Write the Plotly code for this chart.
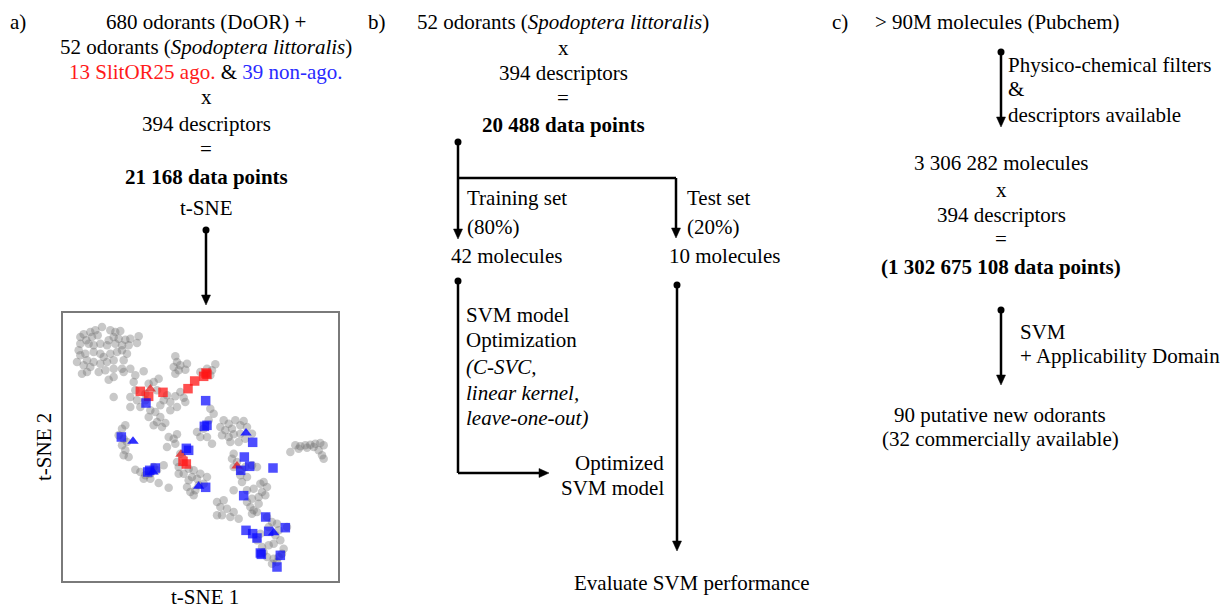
import plotly.graph_objects as go

# ---------------- data: t-SNE map (panel a) ----------------
gray_t1 = [12.5,10.5,9.0,7.0,6.0,7.8,9.5,11.2,15.0,16.5,18.0,16.0,14.5,17.5,19.5,21.0,23.5,23.0,20.5,18.5,16.5,14.0,12.0,10.0,8.5,6.0,5.5,6.0,7.5,10.0,12.0,13.0,15.0,17.0,18.5,20.0,19.0,16.0,14.0,12.0,10.0,8.0,5.0,7.0,9.0,8.0,6.5,11.5,13.5,16.0,18.5,21.0,16.0,14.5,19.0,22.5,25.0,
           34.5,35.0,34.0,36.0,38.0,37.5,35.5,34.5,44.0,46.5,45.0,42.0,45.5,
           22.0,26.5,28.0,29.5,22.5,25.5,29.0,32.0,34.5,37.0,36.0,31.0,33.0,30.0,27.0,28.5,30.0,31.5,29.0,26.5,24.0,21.0,21.0,23.0,16.0,25.5,33.0,35.0,37.5,30.5,28.0,
           45.0,46.0,44.5,43.0,41.0,42.0,44.0,45.5,
           49.0,50.5,52.5,55.0,48.0,49.5,51.5,54.0,56.0,48.5,50.5,52.0,54.0,51.0,53.5,55.5,57.5,
           70.5,72.0,73.5,75.0,76.5,78.0,79.0,76.0,74.0,71.5,69.0,77.5,78.5,79.0,
           18.5,19.5,17.5,19.0,20.0,18.5,19.5,19.0,20.5,
           32.5,34.0,35.0,34.5,32.0,36.0,35.0,35.5,35.5,37.0,38.5,40.0,39.5,41.0,38.5,38.0,39.0,40.0,44.0,43.0,41.5,40.5,42.0,
           22.5,24.0,25.5,27.0,29.0,31.0,25.0,27.0,29.5,32.5,28.0,
           52.0,51.5,53.0,52.0,54.0,55.5,57.5,59.0,56.0,54.5,52.0,56.0,58.0,59.5,57.5,56.0,57.0,58.0,60.0,61.0,62.0,60.5,61.5,59.5,57.5,59.0,54.0,
           47.0,49.0,48.0,50.0,47.0,48.5,51.0,53.5,52.0,
           62.0,63.5,65.0,65.5,62.5,64.5,66.0,64.0,62.5,60.5,61.0,62.0,64.0,65.5,66.5,65.0,63.5,67.0,68.0,59.0,60.0]
gray_t2 = [79.0,78.0,77.5,76.8,76.0,75.0,76.0,76.5,78.0,77.5,77.8,76.0,75.0,75.5,75.2,75.5,76.2,74.2,73.5,73.5,74.0,73.5,74.0,73.5,74.0,74.0,72.0,70.5,71.0,71.5,71.0,70.0,71.0,71.5,72.0,71.0,69.0,69.0,68.5,68.0,68.5,69.0,68.5,67.5,67.0,65.5,65.0,65.5,66.0,66.5,66.5,66.5,64.0,63.2,65.5,64.5,65.7,
           70.2,68.5,67.0,67.5,68.0,66.2,66.0,65.0,66.5,67.8,64.5,65.5,66.0,
           62.5,62.0,62.5,63.5,60.0,59.0,60.0,58.5,58.2,57.8,59.5,57.0,56.5,55.5,54.0,53.5,52.0,50.2,50.5,52.0,55.0,55.0,58.0,57.0,58.0,57.0,54.0,55.0,56.5,49.0,49.5,
           54.5,53.0,51.0,48.5,47.5,46.0,46.0,44.0,
           51.0,50.0,51.0,50.8,49.0,48.0,48.5,49.5,49.0,46.5,46.0,46.8,47.0,44.5,44.5,45.5,47.0,
           43.5,43.2,43.5,43.7,44.0,44.2,43.5,43.0,42.8,42.5,41.5,42.0,40.5,39.5,
           48.5,49.5,46.5,45.5,44.5,43.5,42.0,40.5,40.0,
           46.0,45.5,46.8,44.0,43.0,41.0,38.5,37.0,35.0,35.0,36.5,36.0,34.0,33.5,33.0,31.0,29.5,28.5,34.0,32.0,31.5,30.0,35.0,
           36.2,35.5,34.5,35.0,36.0,37.5,33.5,33.5,32.2,30.8,37.0,
           41.0,39.5,38.5,37.0,36.0,37.0,37.5,37.0,34.0,32.5,30.0,30.0,30.5,28.0,27.5,26.5,25.0,24.0,32.0,32.5,31.0,29.5,28.5,26.0,23.0,23.5,34.5,
           26.5,27.0,25.0,24.5,22.5,22.5,22.0,21.5,23.5,
           22.0,20.5,20.0,18.0,19.0,16.5,15.0,14.0,13.5,13.0,11.5,10.0,9.5,10.0,11.0,8.5,8.0,12.5,19.0,15.0,17.0]

ago_sq_t1 = [24.0,26.5,30.8,38.3,40.3,43.7,43.0,36.8,37.8,44.0]
ago_sq_t2 = [59.7,58.2,59.4,60.5,62.8,65.2,64.2,38.7,37.9,64.8]
ago_tri_t1 = [27.0,36.2,53.0]
ago_tri_t2 = [60.4,40.8,37.3]

non_sq_t1 = [25.7,43.6,43.2,18.3,37.8,38.5,26.8,28.5,43.6,57.7,55.2,56.8,54.1,63.8,55.0,61.6,55.7,57.7,59.0,62.5,67.5,60.3,66.0,65.0,60.0,26.2,44.0]
non_sq_t2 = [56.2,56.9,49.2,46.0,42.6,42.0,36.0,36.7,30.9,44.4,40.0,37.2,36.0,36.7,28.4,22.0,18.0,17.0,15.7,17.7,18.8,10.8,10.5,7.0,11.2,35.5,49.5]
non_tri_t1 = [21.8,55.7,64.0,41.5,27.8]
non_tri_t2 = [44.7,47.2,17.3,31.2,35.5]

T1_RANGE = [0.8, 83.3]
T2_RANGE = [2.8, 83.2]

FONT = "Liberation Serif"
FS = 21
PAGE_W, PAGE_H = 1229, 610
OFF = 8  # default page body margin
W, H = PAGE_W - OFF, PAGE_H - OFF

fig = go.Figure()

# scatter traces on subplot 2
fig.add_trace(go.Scatter(x=gray_t1, y=gray_t2, mode="markers", xaxis="x2", yaxis="y2",
                         marker=dict(size=8.5, color="rgba(110,110,110,0.38)", line=dict(width=0)),
                         hoverinfo="skip", showlegend=False))
fig.add_trace(go.Scatter(x=ago_sq_t1, y=ago_sq_t2, mode="markers", xaxis="x2", yaxis="y2",
                         marker=dict(size=9.5, symbol="square", color="rgba(255,20,20,0.75)", line=dict(width=0)),
                         showlegend=False))
fig.add_trace(go.Scatter(x=ago_tri_t1, y=ago_tri_t2, mode="markers", xaxis="x2", yaxis="y2",
                         marker=dict(size=10, symbol="triangle-up", color="rgba(230,30,30,0.75)", line=dict(width=0)),
                         showlegend=False))
fig.add_trace(go.Scatter(x=non_sq_t1, y=non_sq_t2, mode="markers", xaxis="x2", yaxis="y2",
                         marker=dict(size=9.5, symbol="square", color="rgba(10,10,255,0.72)", line=dict(width=0)),
                         showlegend=False))
fig.add_trace(go.Scatter(x=non_tri_t1, y=non_tri_t2, mode="markers", xaxis="x2", yaxis="y2",
                         marker=dict(size=10, symbol="triangle-up", color="rgba(10,10,255,0.85)", line=dict(width=0)),
                         showlegend=False))

shapes = []
annotations = []

LW = 2.5

def line(x0, y0, x1, y1):
    shapes.append(dict(type="line", xref="x", yref="y", x0=x0, y0=y0, x1=x1, y1=y1,
                       line=dict(color="black", width=LW)))

def dot(x, y, r=3.5):
    shapes.append(dict(type="circle", xref="x", yref="y", x0=x - r, y0=y - r, x1=x + r, y1=y + r,
                       fillcolor="black", line=dict(color="black", width=0)))

def head_down(x, y):
    shapes.append(dict(type="path", xref="x", yref="y",
                       path=f"M {x-4.5},{y-10} L {x+4.5},{y-10} L {x},{y} Z",
                       fillcolor="black", line=dict(color="black", width=0.5)))

def head_right(x, y):
    shapes.append(dict(type="path", xref="x", yref="y",
                       path=f"M {x-10},{y-4.5} L {x-10},{y+4.5} L {x},{y} Z",
                       fillcolor="black", line=dict(color="black", width=0.5)))

def text(x, y, s, anchor="center", size=FS, angle=0):
    annotations.append(dict(x=x, y=y, xref="x", yref="y", text=s, showarrow=False,
                            xanchor=anchor, yanchor="middle", textangle=angle,
                            font=dict(family=FONT, size=size, color="black")))

# ---------------- panel a ----------------
text(18, 22, "a)")
ax = 206
text(ax, 22, "680 odorants (DoOR) +")
text(ax, 47, "52 odorants (<i>Spodoptera littoralis</i>)")
text(ax, 72, "<span style='color:#ff1a1a'>13 SlitOR25 ago.</span> &amp; "
             "<span style='color:#2a2aff'>39 non-ago.</span>")
text(ax, 97, "x")
text(ax, 124, "394 descriptors")
text(ax, 149, "=")
text(ax, 177, "<b>21 168 data points</b>")
text(ax, 208, "t-SNE")
dot(206, 230)
line(206, 230, 206, 297)
head_down(206, 305)
text(205, 597, "t-SNE 1")
text(44, 447, "t-SNE 2", angle=-90)

# ---------------- panel b ----------------
text(377, 22, "b)")
bx = 563
text(bx, 22, "52 odorants (<i>Spodoptera littoralis</i>)")
text(bx, 48, "x")
text(bx, 73, "394 descriptors")
text(bx, 98, "=")
text(bx, 125, "<b>20 488 data points</b>")
dot(458, 142)
line(458, 142, 458, 231)
head_down(458, 239)
line(458, 178, 676, 178)
line(676, 178, 676, 230)
head_down(676, 238)
text(465, 198, "Training set", anchor="left")
text(465, 227, "(80%)", anchor="left")
text(685, 198, "Test set", anchor="left")
text(685, 227, "(20%)", anchor="left")
text(449, 256, "42 molecules", anchor="left")
text(667, 256, "10 molecules", anchor="left")
dot(458, 281)
line(458, 281, 458, 473)
line(458, 473, 541, 473)
head_right(549, 473)
text(464, 315, "SVM model", anchor="left")
text(464, 340, "Optimization", anchor="left")
text(464, 367, "<i>(C-SVC,</i>", anchor="left")
text(464, 393, "<i>linear kernel,</i>", anchor="left")
text(464, 418, "<i>leave-one-out)</i>", anchor="left")
text(666, 463, "Optimized", anchor="right")
text(666, 488, "SVM model", anchor="right")
dot(677, 285)
line(677, 285, 677, 543)
head_down(677, 551)
text(692, 583, "Evaluate SVM performance")

# ---------------- panel c ----------------
text(840, 22, "c)")
text(873, 22, "&gt; 90M molecules (Pubchem)", anchor="left")
dot(1001, 52)
line(1001, 52, 1001, 119)
head_down(1001, 127)
text(1006, 65, "Physico-chemical filters", anchor="left")
text(1006, 89, "&amp;", anchor="left")
text(1006, 115, "descriptors available", anchor="left")
cx = 1001
text(cx, 163, "3 306 282 molecules")
text(cx, 190, "x")
text(cx, 215, "394 descriptors")
text(cx, 239, "=")
text(cx, 267, "<b>(1 302 675 108 data points)</b>")
dot(1001, 310)
line(1001, 310, 1001, 377)
head_down(1001, 385)
text(1018, 332, "SVM", anchor="left")
text(1018, 356, "+ Applicability Domain", anchor="left")
text(1000, 415, "90 putative new odorants")
text(1000, 439, "(32 commercially available)")

# layout coordinates are page pixels; the figure starts OFF px into the page
fig.update_layout(
    width=W, height=H,
    margin=dict(l=0, r=0, t=0, b=0),
    paper_bgcolor="white", plot_bgcolor="rgba(0,0,0,0)",
    showlegend=False,
    xaxis=dict(range=[OFF, PAGE_W], domain=[0, 1], visible=False, fixedrange=True),
    yaxis=dict(range=[PAGE_H, OFF], domain=[0, 1], visible=False, fixedrange=True),
    xaxis2=dict(range=T1_RANGE, domain=[(63 - OFF) / W, (338 - OFF) / W], anchor="y2",
                showline=True, mirror=True, linecolor="#7a7a7a", linewidth=1.5,
                showgrid=False, zeroline=False, showticklabels=False, ticks=""),
    yaxis2=dict(range=T2_RANGE, domain=[(PAGE_H - 581) / H, (PAGE_H - 313) / H], anchor="x2",
                showline=True, mirror=True, linecolor="#7a7a7a", linewidth=1.5,
                showgrid=False, zeroline=False, showticklabels=False, ticks=""),
    shapes=shapes,
    annotations=annotations,
)

fig.write_html("out.html")
